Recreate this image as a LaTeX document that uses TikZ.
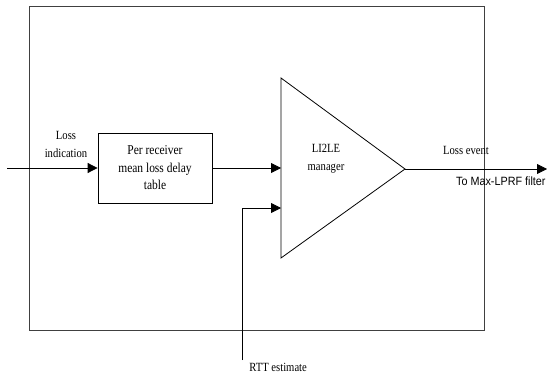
\documentclass[tikz,border=0pt]{standalone}
\usepackage{fontspec}
\setmainfont{Liberation Serif}
\newfontfamily\narrowserif[FakeStretch=0.85]{Liberation Serif}
\newfontfamily\narrowsans[FakeStretch=0.9]{Liberation Sans}
\usetikzlibrary{arrows.meta}
\tikzset{
	flow/.style={-{Triangle[length=10pt,width=10pt]}},
	lbl/.style={font=\narrowserif\fontsize{12.5}{18}\selectfont, align=center, inner sep=0pt},
	boxlbl/.style={font=\narrowserif\fontsize{13.5}{17.5}\selectfont, align=center},
}

\begin{document}
\begin{tikzpicture}[x=1pt,y=-1pt,line width=0.8pt]
	\useasboundingbox (0,0) rectangle (548,374);
	\draw[line width=1pt, black!75] (29,7) rectangle (484,330);

	\node[draw, boxlbl, minimum width=114pt, minimum height=70pt] (table) at (155,168) {Per receiver\\mean loss delay\\table};

	\coordinate (mgrtop) at (281,78);
	\coordinate (mgrbot) at (281,258);
	\coordinate (apex) at (405,169);
	\draw (mgrtop) -- (apex) -- (mgrbot) -- cycle;

	\coordinate (src) at (7,168);
	\coordinate (mgrin) at (281,168);
	\coordinate (dst) at (547,169);
	\coordinate (rttfoot) at (242,360);
	\coordinate (rttin) at (281,208);

	\draw[flow] (src) -- (table.west);
	\draw[flow] (table.east) -- (mgrin);
	\draw[flow] (apex) -- (dst);
	\draw[flow] (rttfoot) |- (rttin);

	\node[lbl] (lossind) at (66,144) {Loss\\indication};
	\node[lbl] (mgrlbl) at (326,159) {LI2LE\\manager};
	\node[lbl] (lossev) at (466,150) {Loss event};
	\node[lbl, anchor=west] (rtt) at (249,367) {RTT estimate};
	\node[font=\narrowsans\fontsize{12}{14}\selectfont, anchor=east, inner sep=0pt] (dest) at (546,181) {To Max-LPRF filter};
\end{tikzpicture}
\end{document}
